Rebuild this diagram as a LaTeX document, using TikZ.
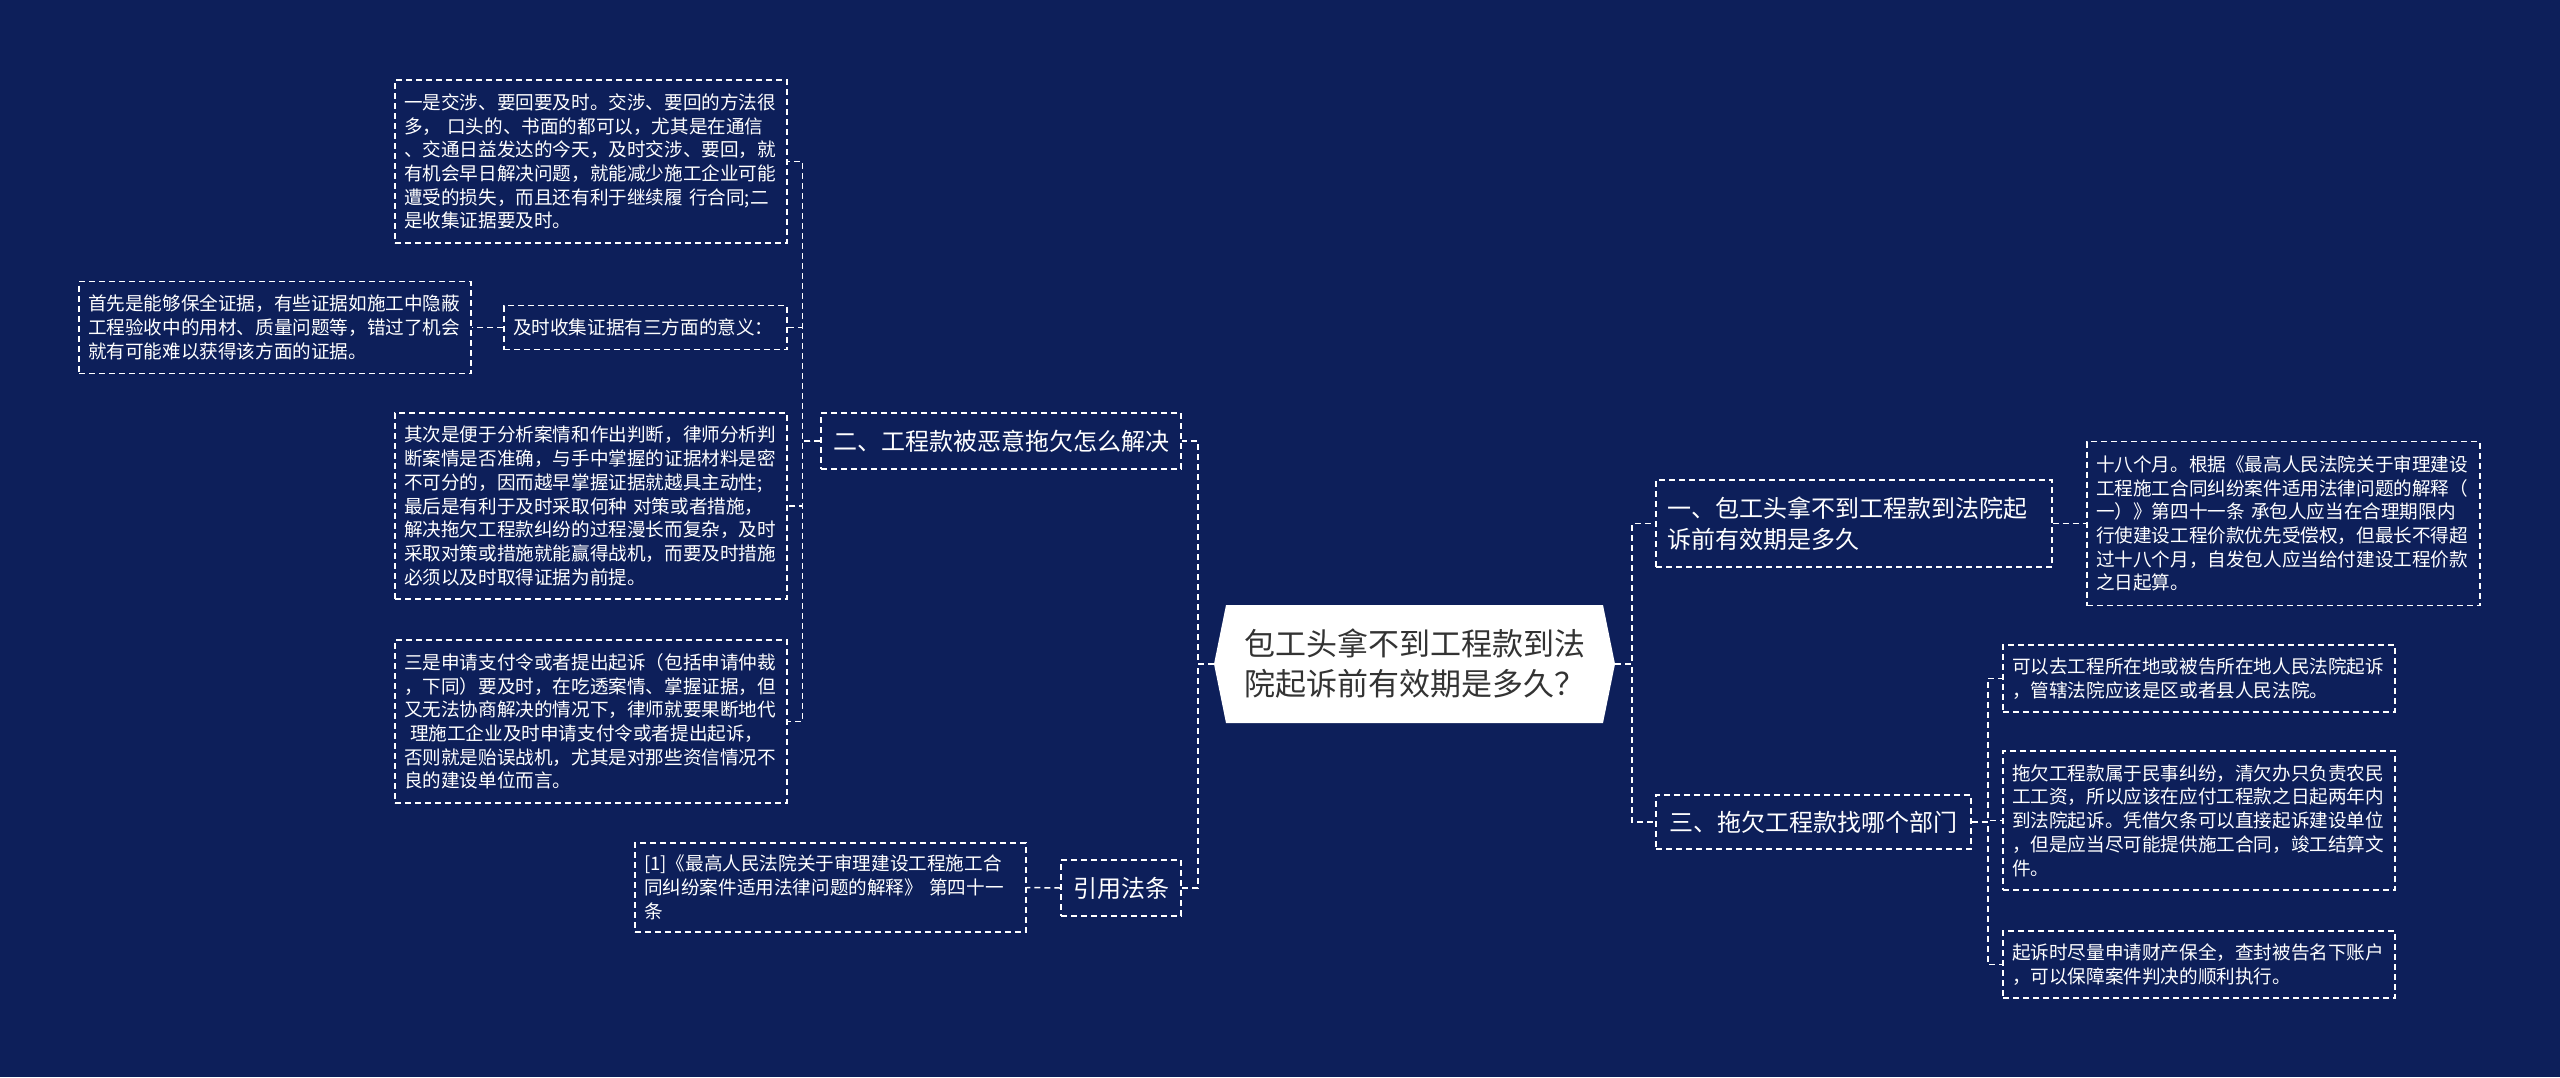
\documentclass[tikz,border=0pt]{standalone}
\usepackage{fontspec}
\setmainfont{Noto Sans CJK SC}
\definecolor{bgnavy}{RGB}{13,31,90}
\definecolor{titletext}{RGB}{51,51,51}
\begin{document}
\begin{tikzpicture}[x=1pt,y=-1pt,
  dsh/.style={draw=white, line width=1.5pt, dash pattern=on 6pt off 4pt},
  leaf/.style={dsh, text=white, font=\fontsize{18.6pt}{23.7pt}\selectfont, align=left, text width=374pt, inner xsep=9pt, inner ysep=0pt},
  branch/.style={dsh, text=white, font=\fontsize{24pt}{31pt}\selectfont, align=center, inner xsep=12pt, inner ysep=0pt, minimum height=56pt},
  conn/.style={dsh}]
\useasboundingbox (0,0) rectangle (2560,1077);
\fill[bgnavy] (0,0) rectangle (2560,1077);

% central topic
\fill[white] (1214,664) -- (1226,605) -- (1603,605) -- (1615,664) -- (1603,723) -- (1226,723) -- cycle;
\node[minimum width=401pt, minimum height=118pt, inner sep=0pt, text=titletext,
  font=\fontsize{31pt}{40pt}\selectfont, align=center] (c) at (1414.5,664)
  {包工头拿不到工程款到法\\院起诉前有效期是多久？};

% left branch
\node[branch, minimum width=360pt] (b2) at (1001,441) {二、工程款被恶意拖欠怎么解决};
\node[branch, minimum width=120pt] (yy) at (1121,888) {引用法条};

\node[leaf, minimum height=163pt] (l1) at (591,161.5) {一是交涉、要回要及时。交涉、要回的方法很\\多， 口头的、书面的都可以，尤其是在通信\\、交通日益发达的今天，及时交涉、要回，就\\有机会早日解决问题，就能减少施工企业可能\\遭受的损失，而且还有利于继续履 行合同;二\\是收集证据要及时。};
\node[leaf, text width=265pt, minimum height=44pt] (js) at (645.5,327.5) {及时收集证据有三方面的意义：};
\node[leaf, minimum height=92pt] (l2) at (275,327.5) {首先是能够保全证据，有些证据如施工中隐蔽\\工程验收中的用材、质量问题等，错过了机会\\就有可能难以获得该方面的证据。};
\node[leaf, minimum height=186pt] (l3) at (591,506) {其次是便于分析案情和作出判断，律师分析判\\断案情是否准确，与手中掌握的证据材料是密\\不可分的，因而越早掌握证据就越具主动性;\\最后是有利于及时采取何种 对策或者措施，\\解决拖欠工程款纠纷的过程漫长而复杂，及时\\采取对策或措施就能赢得战机，而要及时措施\\必须以及时取得证据为前提。};
\node[leaf, minimum height=163pt] (l4) at (591,721.5) {三是申请支付令或者提出起诉（包括申请仲裁\\，下同）要及时，在吃透案情、掌握证据，但\\又无法协商解决的情况下，律师就要果断地代\\\hspace*{6pt}理施工企业及时申请支付令或者提出起诉，\\否则就是贻误战机，尤其是对那些资信情况不\\良的建设单位而言。};
\node[leaf, text width=373pt, minimum height=89pt] (ct) at (830.5,887.5) {[1]《最高人民法院关于审理建设工程施工合\\同纠纷案件适用法律问题的解释》 第四十一\\条};

% right branch
\node[branch, align=left, text width=374pt, inner xsep=11pt, minimum height=87pt] (r1) at (1854,523.5) {一、包工头拿不到工程款到法院起\\诉前有效期是多久};
\node[leaf, text width=375pt, minimum height=164pt] (r1l) at (2283.5,523.5) {十八个月。根据《最高人民法院关于审理建设\\工程施工合同纠纷案件适用法律问题的解释（\\一）》第四十一条 承包人应当在合理期限内\\行使建设工程价款优先受偿权，但最长不得超\\过十八个月，自发包人应当给付建设工程价款\\之日起算。};
\node[branch, minimum width=315pt, minimum height=54pt] (r3) at (1813.5,822) {三、拖欠工程款找哪个部门};
\node[leaf, minimum height=67pt] (r3a) at (2199,678.5) {可以去工程所在地或被告所在地人民法院起诉\\，管辖法院应该是区或者县人民法院。};
\node[leaf, minimum height=139pt] (r3b) at (2199,820.5) {拖欠工程款属于民事纠纷，清欠办只负责农民\\工工资，所以应该在应付工程款之日起两年内\\到法院起诉。凭借欠条可以直接起诉建设单位\\，但是应当尽可能提供施工合同，竣工结算文\\件。};
\node[leaf, minimum height=67pt] (r3c) at (2199,964.5) {起诉时尽量申请财产保全，查封被告名下账户\\，可以保障案件判决的顺利执行。};

% connectors
\draw[conn] (c.west) -- ++(-16,0) |- (b2.east);
\draw[conn] (c.west) -- ++(-16,0) |- (yy.east);
\draw[conn] (c.east) -- ++(17,0) |- (r1.west);
\draw[conn] (c.east) -- ++(17,0) |- (r3.west);
\draw[conn] (b2.west) -- ++(-18,0) |- (l1.east);
\draw[conn] (b2.west) -- ++(-18,0) |- (js.east);
\draw[conn] (b2.west) -- ++(-18,0) |- (l3.east);
\draw[conn] (b2.west) -- ++(-18,0) |- (l4.east);
\draw[conn] (js.west) -- (l2.east);
\draw[conn] (yy.west) -- (ct.east);
\draw[conn] (r1.east) -- (r1l.west);
\draw[conn] (r3.east) -- ++(16,0) |- (r3a.west);
\draw[conn] (r3.east) -- ++(16,0) |- (r3b.west);
\draw[conn] (r3.east) -- ++(16,0) |- (r3c.west);
\end{tikzpicture}
\end{document}
